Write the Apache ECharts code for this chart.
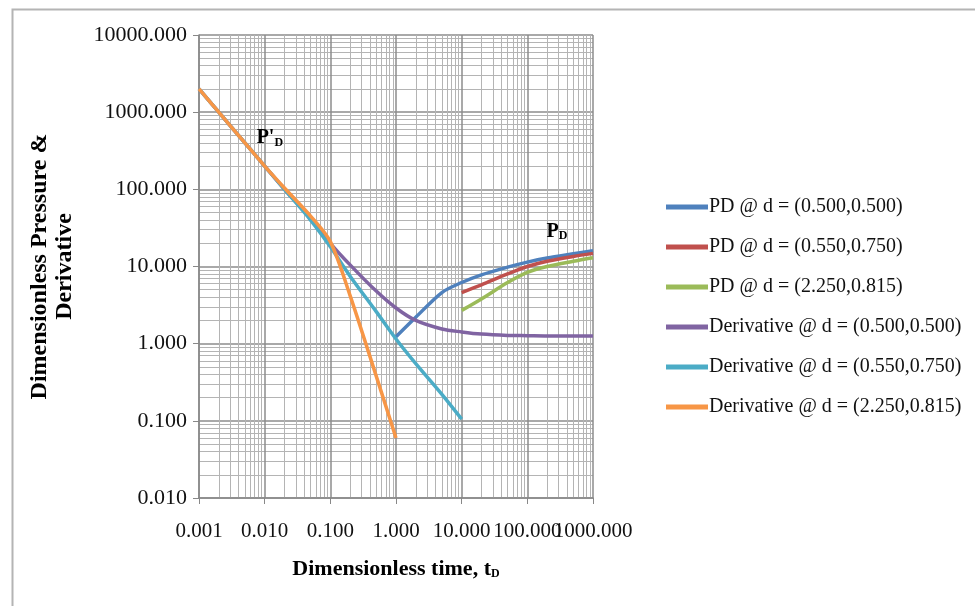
<!DOCTYPE html>
<html>
<head>
<meta charset="utf-8">
<script src="https://cdn.jsdelivr.net/npm/echarts@6/dist/echarts.min.js"></script>
<style>
html, body { margin: 0; background: #fff; }
#chart-container { width: 975px; height: 606px; }
</style>
</head>
<body>
<div id="chart-container"></div>
<script>
// series labels, in legend order
const seriesNames = [
    'PD @ d = (0.500,0.500)',
    'PD @ d = (0.550,0.750)',
    'PD @ d = (2.250,0.815)',
    'Derivative @ d = (0.500,0.500)',
    'Derivative @ d = (0.550,0.750)',
    'Derivative @ d = (2.250,0.815)'
];

// [tD, value]
const pdA = [[1, 1.23], [2, 2.2], [5, 4.6], [10, 6.2], [20, 7.8], [50, 9.8], [100, 11.4], [200, 12.9], [500, 14.6], [1000, 16.0]];
const pdB = [[10, 4.6], [20, 5.8], [50, 8.0], [100, 10.0], [200, 11.7], [500, 13.5], [1000, 14.8]];
const pdC = [[10, 2.7], [20, 3.8], [50, 6.2], [100, 8.4], [200, 10.0], [500, 11.7], [1000, 13.0]];
const derivA = [[0.001, 2000], [0.002, 1000], [0.005, 400], [0.01, 200], [0.02, 100], [0.05, 42], [0.1, 20], [0.2, 10.5], [0.5, 4.8], [1, 2.9], [2, 2.0], [5, 1.55], [10, 1.42], [20, 1.33], [50, 1.28], [100, 1.27], [200, 1.26], [500, 1.26], [1000, 1.26]];
const derivB = [[0.001, 2000], [0.002, 1000], [0.005, 400], [0.01, 200], [0.02, 100], [0.05, 40], [0.1, 18], [0.2, 7.5], [0.5, 2.6], [1, 1.15], [2, 0.55], [5, 0.22], [10, 0.105]];
const derivC = [[0.001, 2000], [0.002, 1000], [0.005, 400], [0.01, 200], [0.02, 104], [0.05, 45], [0.1, 21], [0.2, 4.2], [0.5, 0.38], [1, 0.06]];

const seriesData = [pdA, pdB, pdC, derivA, derivB, derivC];
const seriesColors = ['#4F81BD', '#C0504D', '#9BBB59', '#8064A2', '#4BACC6', '#F79646'];

// tick labels as printed on the axes
const xTickLabels = ['0.001', '0.010', '0.100', '1.000', '10.000', '100.000', '1000.000'];
const yTickLabels = ['0.010', '0.100', '1.000', '10.000', '100.000', '1000.000', '10000.000'];

// curve annotations: [tD, value]
const annoDerivative = [0.012, 470];
const annoPressure = [282, 28.5];

const serif = 'Liberation Serif';

// echarts drops a label that collides with its neighbour, so the x labels
// are split over two axes: even-position ones on the first, odd on the second
function labelFromList(list, firstExp, keep) {
    return function (val) {
        const i = Math.round(Math.log10(val)) - firstExp;
        if (keep && !keep(i)) return '';
        return list[i] !== undefined ? list[i] : '';
    };
}

const chartDom = document.getElementById('chart-container');
const myChart = echarts.init(chartDom, null, {renderer: 'canvas'});

const subRich = {
    b: {fontFamily: serif, fontWeight: 'bold', fontSize: 20, color: '#000'},
    s: {fontFamily: serif, fontWeight: 'bold', fontSize: 12, color: '#000', verticalAlign: 'bottom', padding: [10, 0, 0, 0]}
};

const series = seriesData.map((d, i) => {
    const s = {
        name: seriesNames[i],
        type: 'line',
        data: d,
        showSymbol: false,
        symbol: 'none',
        smooth: 0.3,
        lineStyle: {width: 3.5, color: seriesColors[i]},
        itemStyle: {color: seriesColors[i]},
        z: 3 + i
    };
    if (i === 5) {
        s.markPoint = {
            symbol: 'circle',
            symbolSize: 0,
            label: {
                show: true,
                position: 'inside',
                formatter: p => p.name,
                rich: subRich
            },
            data: [
                {name: "{b|P'}{s|D}", coord: annoDerivative},
                {name: '{b|P}{s|D}', coord: annoPressure}
            ]
        };
    }
    return s;
});

const xLabelStyle = {fontFamily: serif, fontSize: 21, color: '#111', margin: 23, hideOverlap: false};

let option = {
    backgroundColor: '#fff',
    animation: false,
    graphic: [{
        type: 'rect',
        left: 10,
        top: 7,
        shape: {width: 1000, height: 640},
        style: {fill: 'none', stroke: '#b4b4b4', lineWidth: 2},
        silent: true
    }],
    grid: {left: 199, top: 35, width: 394, height: 463},
    legend: {
        orient: 'vertical',
        left: 661,
        top: 192,
        icon: 'rect',
        itemWidth: 42,
        itemHeight: 5,
        itemGap: 20,
        textStyle: {fontFamily: serif, fontSize: 20, color: '#111', padding: [0, 0, 0, -4]},
        data: seriesNames
    },
    xAxis: [{
        type: 'log',
        logBase: 10,
        min: 0.001,
        max: 1000,
        splitNumber: 6,
        name: 'Dimensionless time, t{s|D}',
        nameLocation: 'middle',
        nameGap: 60,
        nameTextStyle: {
            fontFamily: serif, fontWeight: 'bold', fontSize: 22, color: '#000',
            rich: subRich
        },
        axisLine: {show: true, lineStyle: {color: '#888', width: 1.5}},
        axisTick: {show: true, length: 6, lineStyle: {color: '#888'}},
        axisLabel: Object.assign({
            showMinLabel: true, showMaxLabel: true,
            formatter: labelFromList(xTickLabels, -3, i => i % 2 === 0)
        }, xLabelStyle),
        splitLine: {show: true, lineStyle: {color: '#8c8c8c', width: 1.5}},
        minorTick: {show: false, splitNumber: 9},
        minorSplitLine: {show: true, lineStyle: {color: '#b4b4b4', width: 1}}
    }, {
        type: 'log',
        logBase: 10,
        min: 0.001,
        max: 1000,
        splitNumber: 6,
        position: 'bottom',
        axisLine: {show: false},
        axisTick: {show: false},
        splitLine: {show: false},
        axisLabel: Object.assign({
            showMinLabel: false, showMaxLabel: false,
            formatter: labelFromList(xTickLabels, -3, i => i % 2 === 1)
        }, xLabelStyle)
    }],
    yAxis: {
        type: 'log',
        logBase: 10,
        min: 0.01,
        max: 10000,
        splitNumber: 6,
        name: 'Dimensionless Pressure &\nDerivative',
        nameLocation: 'middle',
        nameGap: 122,
        nameTextStyle: {fontFamily: serif, fontWeight: 'bold', fontSize: 24, color: '#000', lineHeight: 25},
        axisLine: {show: true, lineStyle: {color: '#888', width: 1.5}},
        axisTick: {show: true, length: 6, lineStyle: {color: '#888'}},
        axisLabel: {
            fontFamily: serif, fontSize: 22, color: '#111', margin: 12,
            formatter: labelFromList(yTickLabels, -2)
        },
        splitLine: {show: true, lineStyle: {color: '#8c8c8c', width: 1.5}},
        minorTick: {show: false, splitNumber: 9},
        minorSplitLine: {show: true, lineStyle: {color: '#b4b4b4', width: 1}}
    },
    series: series
};

option && myChart.setOption(option, true);
</script>
</body>
</html>
